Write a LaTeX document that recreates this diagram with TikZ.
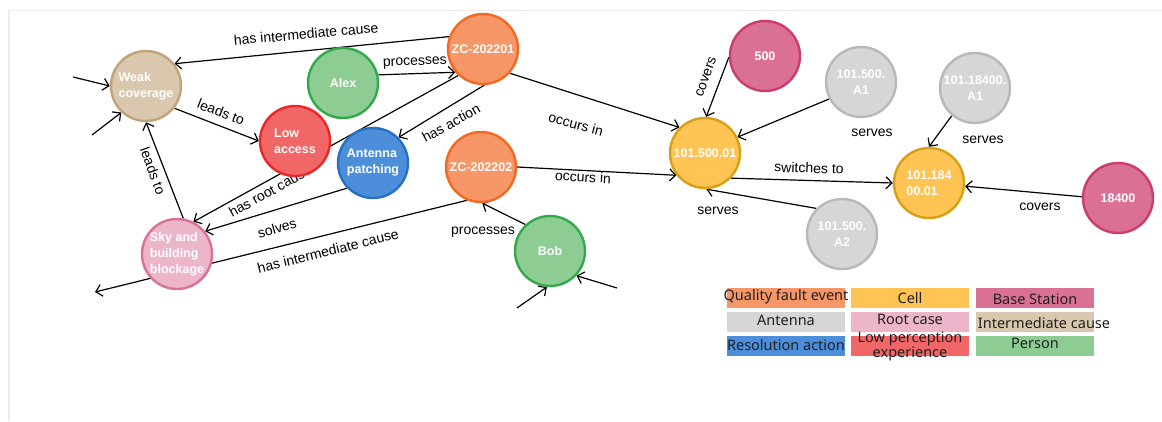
\documentclass[tikz,border=0pt]{standalone}
\usepackage{fontspec}
\setmainfont{Liberation Sans}
\newfontfamily\legfont{Noto Sans}
\usetikzlibrary{arrows.meta}
\definecolor{qfF}{HTML}{F79767}\definecolor{qfB}{HTML}{F36924}
\definecolor{ceF}{HTML}{FFC454}\definecolor{ceB}{HTML}{D7A013}
\definecolor{bsF}{HTML}{DA7194}\definecolor{bsB}{HTML}{CC3C6C}
\definecolor{anF}{HTML}{D6D6D6}\definecolor{anB}{HTML}{B8B8B8}
\definecolor{rcF}{HTML}{ECB5C9}\definecolor{rcB}{HTML}{DA7298}
\definecolor{icF}{HTML}{D9C8AE}\definecolor{icB}{HTML}{C0A378}
\definecolor{raF}{HTML}{4C8EDA}\definecolor{raB}{HTML}{2870C2}
\definecolor{lpF}{HTML}{F16667}\definecolor{lpB}{HTML}{EB2728}
\definecolor{peF}{HTML}{8DCC93}\definecolor{peB}{HTML}{33AA4A}
\pgfdeclarelayer{bg}
\pgfsetlayers{bg,main}
\begin{document}
\begin{tikzpicture}[x=1pt,y=-1pt,
  ent/.style={circle, minimum size=70pt, inner sep=0pt, line width=2.4pt, text=white,
    font=\fontsize{12.5}{16}\selectfont\bfseries},
  rel/.style={line width=1.2pt, -{Straight Barb[length=6pt,width=12pt]}},
  lab/.style={font=\fontsize{14}{16}\selectfont, inner sep=0pt, text=black},
  legbox/.style={rectangle, minimum width=118pt, minimum height=20pt, inner sep=0pt},
  legtext/.style={inner sep=0pt, text=black!88, font=\legfont\fontsize{14.5}{11}\selectfont, align=center}
]
\useasboundingbox (0,0) rectangle (1162,421);

% entities
\node[ent, fill=icF, draw=icB, align=left] (weak) at (146,86) {Weak\\coverage};
\node[ent, fill=peF, draw=peB] (alex) at (343,83) {Alex};
\node[ent, fill=qfF, draw=qfB] (z1) at (483,49) {ZC-202201};
\node[ent, fill=lpF, draw=lpB, align=left] (low) at (295,141) {Low\\access};
\node[ent, fill=raF, draw=raB, align=left] (ant) at (373,163) {Antenna\\patching};
\node[ent, fill=qfF, draw=qfB] (z2) at (481,167) {ZC-202202};
\node[ent, fill=rcF, draw=rcB, align=left] (sky) at (177,254) {Sky and\\building\\blockage};
\node[ent, fill=peF, draw=peB] (bob) at (550,251) {Bob};
\node[ent, fill=bsF, draw=bsB] (b500) at (765,56) {500};
\node[ent, fill=anF, draw=anB, align=center] (a1) at (861,82) {101.500.\\A1};
\node[ent, fill=ceF, draw=ceB] (c1) at (705,153) {101.500.01};
\node[ent, fill=anF, draw=anB, align=center] (a2) at (842,234) {101.500.\\A2};
\node[ent, fill=ceF, draw=ceB, align=left] (c2) at (929,183) {101.184\\00.01};
\node[ent, fill=anF, draw=anB, align=center] (a184) at (975,88) {101.18400.\\A1};
\node[ent, fill=bsF, draw=bsB] (b184) at (1118,198) {18400};

\coordinate (fw1) at (73,77);
\coordinate (fw2) at (92,135);
\coordinate (fs) at (95,292);
\coordinate (fb1) at (517,308);
\coordinate (fb2) at (617,288);

\begin{pgfonlayer}{bg}
\fill[white] (0,0) rectangle (1162,421);
\draw[black!7, line width=1.5pt] (9,421) -- (9,10.5) -- (1162,10.5);

\draw[rel] (z1.160) -- (weak.38);
\draw[rel] (fw1) -- (weak.180);
\draw[rel] (fw2) -- (weak.227);
\draw[rel] (weak.-38) -- (low.180);
\draw[rel] (sky.80) -- (weak.-90);
\draw[rel] (z1.227) -- (sky.63);
\draw[rel] (ant.224) -- (sky.39);
\draw[rel] (z1.-88) -- (ant.45);
\draw[rel] (alex.13) -- (z1.220);
\draw[rel] (z1.-42) -- (c1.135);
\draw[rel] (z2.0) -- (c1.218);
\draw[rel] (z2.247) -- (fs);
\draw[rel] (bob.133) -- (z2.-88);
\draw[rel] (fb1) -- (bob.-95);
\draw[rel] (fb2) -- (bob.-43);
\draw[rel] (b500.182) -- (c1.88);
\draw[rel] (a1.208) -- (c1.26);
\draw[rel] (a2.135) -- (c1.-88);
\draw[rel] (c1.-44) -- (c2.180);
\draw[rel] (a184.230) -- (c2.90);
\draw[rel] (b184.178) -- (c2.-5);

\node[lab, rotate=5] (l1) at (306,34) {has intermediate cause};
\node[lab, rotate=-21] (l2) at (221,112) {leads to};
\node[lab, rotate=-70] (l3) at (153,171) {leads to};
\node[lab, rotate=29] (l4) at (270,191) {has root cause};
\node[lab, rotate=16] (l5) at (277,228) {solves};
\node[lab, rotate=14] (l6) at (328,251) {has intermediate cause};
\node[lab, rotate=29] (l7) at (451,123) {has action};
\node[lab, rotate=2] (l8) at (415,63) {processes};
\node[lab, rotate=-15] (l9) at (576,124) {occurs in};
\node[lab, rotate=-3] (l10) at (583,177) {occurs in};
\node[lab] (l11) at (483,232) {processes};
\node[lab, rotate=70] (l12) at (706,77) {covers};
\node[lab] (l13) at (872,133) {serves};
\node[lab] (l14) at (718,211) {serves};
\node[lab, rotate=-2] (l15) at (809,168) {switches to};
\node[lab] (l16) at (983,140) {serves};
\node[lab] (l17) at (1040,207) {covers};
\end{pgfonlayer}

% legend
\node[legbox, fill=qfF] (k1) at (786,298) {};
\node[legbox, fill=ceF] (k2) at (910,298) {};
\node[legbox, fill=bsF] (k3) at (1034.5,298) {};
\node[legbox, fill=anF] (k4) at (786,322) {};
\node[legbox, fill=rcF] (k5) at (910,322) {};
\node[legbox, fill=icF] (k6) at (1034.5,322) {};
\node[legbox, fill=raF] (k7) at (786,345.5) {};
\node[legbox, fill=lpF] (k8) at (910,345.5) {};
\node[legbox, fill=peF] (k9) at (1034.5,345.5) {};
\node[legtext] (t1) at (786,297) {Quality fault event};
\node[legtext] (t2) at (910,298) {Cell};
\node[legtext] (t3) at (1035,299) {Base Station};
\node[legtext] (t4) at (786,320) {Antenna};
\node[legtext] (t5) at (910,319) {Root case};
\node[legtext] (t6) at (1044,323) {Intermediate cause};
\node[legtext] (t7) at (786,345) {Resolution action};
\node[legtext] (t8) at (910,346) {Low perception\\experience};
\node[legtext] (t9) at (1035,343) {Person};
\end{tikzpicture}
\end{document}
